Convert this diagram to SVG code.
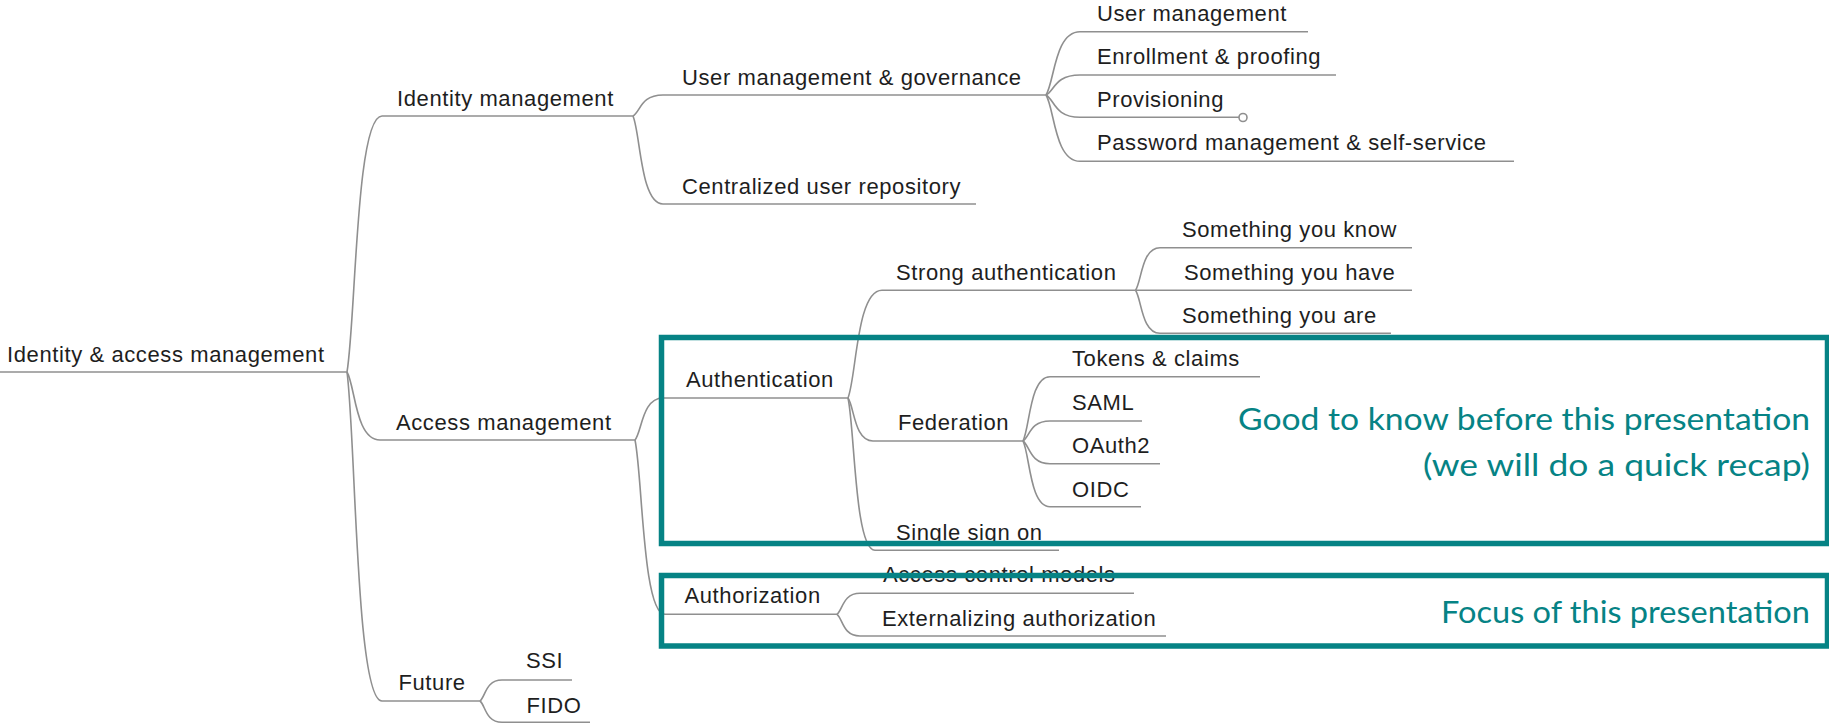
<svg xmlns="http://www.w3.org/2000/svg" width="1829" height="724" viewBox="0 0 1829 724">
  <style>
    .t { font-family: "Liberation Sans", Arial, sans-serif; font-size: 22px; fill: #1e1e1e; letter-spacing: 0.6px; }
    .u { stroke: #8f8f8f; stroke-width: 1.6; fill: none; }
    .c { stroke: #8f8f8f; stroke-width: 1.6; fill: none; }
    .box { fill: none; stroke: #068385; stroke-width: 5.5; }
    .note { font-family: Lato, "Open Sans", sans-serif; font-size: 30px; fill: #068385; }
  </style>
  <rect width="1829" height="724" fill="#ffffff"/>

  <!-- branch curves: parent junction to child underline start -->
  <g id="connectors">
    <path class="c" d="M347,372 C355.75,320.8 355.75,116 382,116"/>
    <path class="c" d="M347,372 C355.25,385.6 355.25,440 380,440"/>
    <path class="c" d="M347,372 C355.75,437.8 355.75,701 382,701"/>

    <path class="c" d="M633,116 C640.5,111.8 640.5,95 663,95"/>
    <path class="c" d="M633,116 C640.5,133.6 640.5,204 663,204"/>

    <path class="c" d="M1046,95 C1054.5,82.3 1054.5,31.7 1080,31.7"/>
    <path class="c" d="M1046,95 C1054.5,91 1054.5,75 1080,75"/>
    <path class="c" d="M1046,95 C1054.5,99.5 1054.5,117.3 1080,117.3"/>
    <path class="c" d="M1046,95 C1054.5,108.3 1054.5,161.3 1080,161.3"/>

    <path class="c" d="M635,440 C642,431.6 642,398 663,398"/>
    <path class="c" d="M635,440 C642.5,474.9 642.5,614.3 665,614.3"/>

    <path class="c" d="M848,398 C856.5,376.5 856.5,290.3 882,290.3"/>
    <path class="c" d="M848,398 C854.25,406.6 854.25,441 873,441"/>
    <path class="c" d="M848,398 C854.75,428.5 854.75,550.3 875,550.3"/>

    <path class="c" d="M1135.5,290.3 C1141.6,281.8 1141.6,247.7 1160,247.7"/>
    <path class="c" d="M1135.5,290.3 C1141.6,298.9 1141.6,333.3 1160,333.3"/>

    <path class="c" d="M1023,441 C1029.75,428.1 1029.75,376.7 1050,376.7"/>
    <path class="c" d="M1023,441 C1029.75,437 1029.75,421 1050,421"/>
    <path class="c" d="M1023,441 C1029.75,445.5 1029.75,463.7 1050,463.7"/>
    <path class="c" d="M1023,441 C1029.75,454.1 1029.75,506.7 1050,506.7"/>

    <path class="c" d="M837,614.3 C842.75,610.1 842.75,593.3 860,593.3"/>
    <path class="c" d="M837,614.3 C842.75,618.6 842.75,636 860,636"/>

    <path class="c" d="M480,701 C485.5,696.8 485.5,680 502,680"/>
    <path class="c" d="M480,701 C485.5,705.3 485.5,722.3 502,722.3"/>
  </g>

  <!-- topics: label with its underline -->
  <g id="n-root"><line class="u" x1="0" y1="372" x2="347" y2="372"/><text class="t" x="7" y="362">Identity &amp; access management</text></g>

  <g id="n-identity"><line class="u" x1="382" y1="116" x2="633" y2="116"/><text class="t" x="397" y="106">Identity management</text></g>
  <g id="n-umg"><line class="u" x1="663" y1="95" x2="1046" y2="95"/><text class="t" x="682" y="84.5">User management &amp; governance</text></g>
  <g id="n-central"><line class="u" x1="663" y1="204" x2="976" y2="204"/><text class="t" x="682" y="193.5">Centralized user repository</text></g>
  <g id="n-usermgmt"><line class="u" x1="1080" y1="31.7" x2="1308" y2="31.7"/><text class="t" x="1097" y="21">User management</text></g>
  <g id="n-enroll"><line class="u" x1="1080" y1="75" x2="1336" y2="75"/><text class="t" x="1097" y="64">Enrollment &amp; proofing</text></g>
  <g id="n-prov"><line class="u" x1="1080" y1="117.3" x2="1239" y2="117.3"/><circle class="u" cx="1243" cy="117.5" r="4" fill="#ffffff"/><text class="t" x="1097" y="106.7">Provisioning</text></g>
  <g id="n-password"><line class="u" x1="1080" y1="161.3" x2="1514" y2="161.3"/><text class="t" x="1097" y="150">Password management &amp; self-service</text></g>

  <g id="n-access"><line class="u" x1="380" y1="440" x2="635" y2="440"/><text class="t" x="396" y="429.5">Access management</text></g>
  <g id="n-authn"><line class="u" x1="663" y1="398" x2="848" y2="398"/><text class="t" x="686" y="386.7">Authentication</text></g>
  <g id="n-strong"><line class="u" x1="882" y1="290.3" x2="1135.5" y2="290.3"/><text class="t" x="896" y="280">Strong authentication</text></g>
  <g id="n-know"><line class="u" x1="1160" y1="247.7" x2="1412" y2="247.7"/><text class="t" x="1182" y="236.7">Something you know</text></g>
  <g id="n-have"><line class="u" x1="1135.5" y1="290.3" x2="1412" y2="290.3"/><text class="t" x="1184" y="280">Something you have</text></g>
  <g id="n-are"><line class="u" x1="1160" y1="333.3" x2="1391" y2="333.3"/><text class="t" x="1182" y="323.3">Something you are</text></g>
  <g id="n-federation"><line class="u" x1="873" y1="441" x2="1023" y2="441"/><text class="t" x="898" y="430">Federation</text></g>
  <g id="n-tokens"><line class="u" x1="1050" y1="376.7" x2="1260" y2="376.7"/><text class="t" x="1072" y="365.7">Tokens &amp; claims</text></g>
  <g id="n-saml"><line class="u" x1="1050" y1="421" x2="1142" y2="421"/><text class="t" x="1072" y="410">SAML</text></g>
  <g id="n-oauth2"><line class="u" x1="1050" y1="463.7" x2="1160" y2="463.7"/><text class="t" x="1072" y="453.3">OAuth2</text></g>
  <g id="n-oidc"><line class="u" x1="1050" y1="506.7" x2="1141" y2="506.7"/><text class="t" x="1072" y="496.7">OIDC</text></g>
  <g id="n-sso"><line class="u" x1="875" y1="550.3" x2="1059" y2="550.3"/><text class="t" x="896" y="540">Single sign on</text></g>
  <g id="n-authz"><line class="u" x1="665" y1="614.3" x2="837" y2="614.3"/><text class="t" x="684.5" y="603.3">Authorization</text></g>
  <g id="n-acm"><line class="u" x1="860" y1="593.3" x2="1134" y2="593.3"/><text class="t" x="883" y="581.7">Access control models</text></g>
  <g id="n-ext"><line class="u" x1="860" y1="636" x2="1166" y2="636"/><text class="t" x="882" y="625.7">Externalizing authorization</text></g>

  <g id="n-future"><line class="u" x1="382" y1="701" x2="480" y2="701"/><text class="t" x="398.5" y="690">Future</text></g>
  <g id="n-ssi"><line class="u" x1="502" y1="680" x2="572" y2="680"/><text class="t" x="526" y="668.3">SSI</text></g>
  <g id="n-fido"><line class="u" x1="502" y1="722.3" x2="590" y2="722.3"/><text class="t" x="526.5" y="712.7">FIDO</text></g>

  <!-- highlight frames with their captions -->
  <g id="frame-recap">
    <rect class="box" x="661.5" y="337.5" width="1166" height="206"/>
    <text class="note" x="1238" y="430" textLength="572" lengthAdjust="spacingAndGlyphs">Good to know before this presentation</text>
    <text class="note" x="1423" y="475.5" textLength="387" lengthAdjust="spacingAndGlyphs">(we will do a quick recap)</text>
  </g>
  <g id="frame-focus">
    <rect class="box" x="661.5" y="575.5" width="1166" height="70.5"/>
    <text class="note" x="1441" y="623.3" textLength="369" lengthAdjust="spacingAndGlyphs">Focus of this presentation</text>
  </g>
</svg>
